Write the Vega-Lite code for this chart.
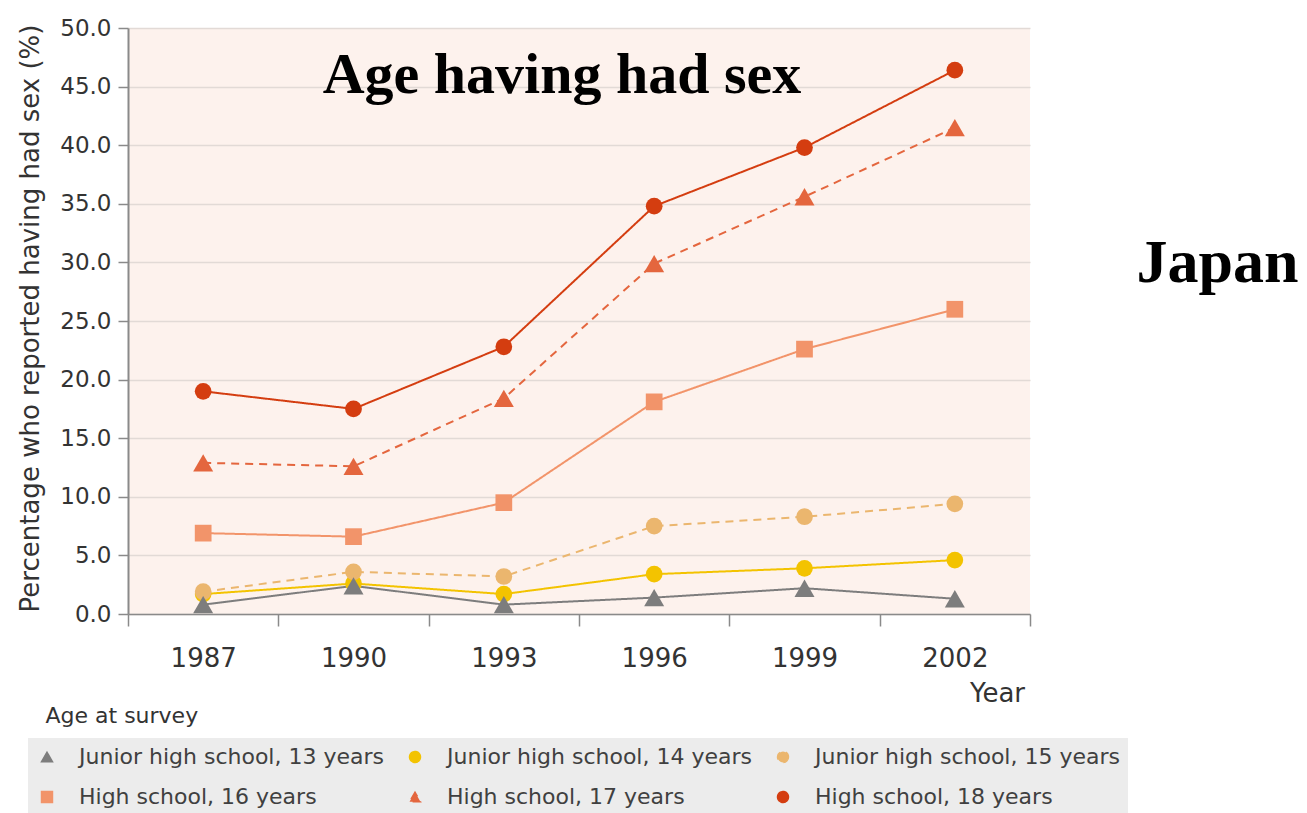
{
  "$schema": "https://vega.github.io/schema/vega-lite/v6.json",
  "width": 902,
  "height": 586,
  "autosize": {"type": "none"},
  "padding": {"left": 128, "top": 28, "right": 277, "bottom": 199},
  "background": "white",
  "title": {
    "text": "Age having had sex",
    "font": "Liberation Serif",
    "fontSize": 58,
    "fontWeight": "bold",
    "color": "#000000",
    "anchor": "middle",
    "frame": "group",
    "baseline": "alphabetic",
    "dx": -17,
    "offset": -134
  },
  "config": {
    "font": "DejaVu Sans",
    "view": {"fill": "#fdf2ed", "stroke": null},
    "legend": {
      "orient": "none",
      "legendX": -100,
      "legendY": 710,
      "padding": 8,
      "fillColor": "#ececec",
      "direction": "horizontal",
      "columns": 3,
      "gridAlign": "all",
      "columnPadding": 20,
      "rowPadding": 18,
      "labelFont": "DejaVu Sans",
      "labelFontSize": 22,
      "labelColor": "#404040",
      "labelLimit": 400,
      "labelOffset": 21,
      "symbolSize": 120,
      "symbolStrokeWidth": 1.5
    }
  },
  "data": {
    "values": [
      {"group": "Junior high school, 13 years", "year": "1987", "pct": 0.8},
      {"group": "Junior high school, 13 years", "year": "1990", "pct": 2.4},
      {"group": "Junior high school, 13 years", "year": "1993", "pct": 0.8},
      {"group": "Junior high school, 13 years", "year": "1996", "pct": 1.4},
      {"group": "Junior high school, 13 years", "year": "1999", "pct": 2.2},
      {"group": "Junior high school, 13 years", "year": "2002", "pct": 1.3},
      {"group": "Junior high school, 14 years", "year": "1987", "pct": 1.7},
      {"group": "Junior high school, 14 years", "year": "1990", "pct": 2.6},
      {"group": "Junior high school, 14 years", "year": "1993", "pct": 1.7},
      {"group": "Junior high school, 14 years", "year": "1996", "pct": 3.4},
      {"group": "Junior high school, 14 years", "year": "1999", "pct": 3.9},
      {"group": "Junior high school, 14 years", "year": "2002", "pct": 4.6},
      {"group": "Junior high school, 15 years", "year": "1987", "pct": 1.9},
      {"group": "Junior high school, 15 years", "year": "1990", "pct": 3.6},
      {"group": "Junior high school, 15 years", "year": "1993", "pct": 3.2},
      {"group": "Junior high school, 15 years", "year": "1996", "pct": 7.5},
      {"group": "Junior high school, 15 years", "year": "1999", "pct": 8.3},
      {"group": "Junior high school, 15 years", "year": "2002", "pct": 9.4},
      {"group": "High school, 16 years", "year": "1987", "pct": 6.9},
      {"group": "High school, 16 years", "year": "1990", "pct": 6.6},
      {"group": "High school, 16 years", "year": "1993", "pct": 9.5},
      {"group": "High school, 16 years", "year": "1996", "pct": 18.1},
      {"group": "High school, 16 years", "year": "1999", "pct": 22.6},
      {"group": "High school, 16 years", "year": "2002", "pct": 26.0},
      {"group": "High school, 17 years", "year": "1987", "pct": 12.9},
      {"group": "High school, 17 years", "year": "1990", "pct": 12.6},
      {"group": "High school, 17 years", "year": "1993", "pct": 18.4},
      {"group": "High school, 17 years", "year": "1996", "pct": 29.9},
      {"group": "High school, 17 years", "year": "1999", "pct": 35.6},
      {"group": "High school, 17 years", "year": "2002", "pct": 41.5},
      {"group": "High school, 18 years", "year": "1987", "pct": 19.0},
      {"group": "High school, 18 years", "year": "1990", "pct": 17.5},
      {"group": "High school, 18 years", "year": "1993", "pct": 22.8},
      {"group": "High school, 18 years", "year": "1996", "pct": 34.8},
      {"group": "High school, 18 years", "year": "1999", "pct": 39.8},
      {"group": "High school, 18 years", "year": "2002", "pct": 46.4}
    ]
  },
  "layer": [
    {
      "mark": {"type": "line", "strokeWidth": 2},
      "encoding": {
        "x": {
          "field": "year",
          "type": "ordinal",
          "scale": {"type": "band", "paddingInner": 0, "paddingOuter": 0},
          "axis": {
            "orient": "bottom",
            "labelAngle": 0,
            "tickBand": "extent",
            "tickSize": 12,
            "tickWidth": 1.5,
            "tickColor": "#8a8a8a",
            "domainColor": "#8a8a8a",
            "domainWidth": 1.5,
            "grid": false,
            "labelFont": "DejaVu Sans",
            "labelFontSize": 26,
            "labelColor": "#333333",
            "labelPadding": 19,
            "title": "Year",
            "titleFont": "DejaVu Sans",
            "titleFontSize": 26,
            "titleFontWeight": "normal",
            "titleColor": "#333333",
            "titleX": 869,
            "titleY": 79,
            "titleAlign": "center",
            "titleBaseline": "middle"
          }
        },
        "y": {
          "field": "pct",
          "type": "quantitative",
          "scale": {"domain": [0, 50], "nice": false},
          "axis": {
            "values": [0, 5, 10, 15, 20, 25, 30, 35, 40, 45, 50],
            "format": ".1f",
            "tickSize": 10,
            "tickWidth": 1.5,
            "tickColor": "#8a8a8a",
            "domainColor": "#8a8a8a",
            "domainWidth": 2,
            "grid": true,
            "gridColor": "#e2dad6",
            "gridWidth": 1.5,
            "labelFont": "DejaVu Sans",
            "labelFontSize": 23,
            "labelColor": "#333333",
            "labelPadding": 7,
            "title": "Percentage who reported having had sex (%)",
            "titleFont": "DejaVu Sans",
            "titleFontSize": 26,
            "titleFontWeight": "normal",
            "titleColor": "#333333",
            "titleAngle": -90,
            "titleX": -98,
            "titleY": 290,
            "titleAlign": "center",
            "titleBaseline": "middle"
          }
        },
        "color": {
          "field": "group",
          "type": "nominal",
          "title": null,
          "scale": {
            "domain": [
              "Junior high school, 13 years",
              "Junior high school, 14 years",
              "Junior high school, 15 years",
              "High school, 16 years",
              "High school, 17 years",
              "High school, 18 years"
            ],
            "range": ["#7d7d7d", "#f3c300", "#ebb66e", "#f2946a", "#e4663e", "#d43d10"]
          }
        },
        "strokeDash": {
          "field": "group",
          "type": "nominal",
          "title": null,
          "scale": {
            "domain": [
              "Junior high school, 13 years",
              "Junior high school, 14 years",
              "Junior high school, 15 years",
              "High school, 16 years",
              "High school, 17 years",
              "High school, 18 years"
            ],
            "range": [[1, 0], [1, 0], [8, 6], [1, 0], [8, 6], [1, 0]]
          }
        }
      }
    },
    {
      "transform": [{"filter": "indexof(['Junior high school, 13 years', 'High school, 17 years'], datum.group) < 0"}],
      "mark": {"type": "point", "filled": true, "opacity": 1, "size": 280},
      "encoding": {
        "x": {
          "field": "year",
          "type": "ordinal",
          "scale": {"type": "band", "paddingInner": 0, "paddingOuter": 0},
          "axis": {
            "orient": "bottom",
            "labels": false,
            "ticks": false,
            "domain": false,
            "grid": false,
            "title": "Age at survey",
            "titleFont": "DejaVu Sans",
            "titleFontSize": 22,
            "titleFontWeight": "normal",
            "titleColor": "#333333",
            "titleX": -83,
            "titleY": 101,
            "titleAlign": "left",
            "titleBaseline": "middle"
          }
        },
        "y": {
          "field": "pct",
          "type": "quantitative",
          "scale": {"domain": [0, 50], "nice": false},
          "axis": {
            "orient": "right",
            "labels": false,
            "ticks": false,
            "domain": false,
            "grid": false,
            "title": "Japan",
            "titleFont": "Liberation Serif",
            "titleFontSize": 62,
            "titleFontWeight": "bold",
            "titleColor": "#000000",
            "titleAngle": 0,
            "titleX": 106,
            "titleY": 253,
            "titleAlign": "left",
            "titleBaseline": "alphabetic"
          }
        },
        "color": {"field": "group", "type": "nominal", "title": null},
        "shape": {
          "field": "group",
          "type": "nominal",
          "title": null,
          "scale": {
            "domain": [
              "Junior high school, 13 years",
              "Junior high school, 14 years",
              "Junior high school, 15 years",
              "High school, 16 years",
              "High school, 17 years",
              "High school, 18 years"
            ],
            "range": ["triangle-up", "circle", "circle", "square", "triangle-up", "circle"]
          }
        }
      }
    },
    {
      "transform": [{"filter": "indexof(['Junior high school, 13 years', 'High school, 17 years'], datum.group) >= 0"}],
      "mark": {"type": "point", "filled": true, "opacity": 1, "size": 400},
      "encoding": {
        "x": {"field": "year", "type": "ordinal", "axis": null},
        "y": {"field": "pct", "type": "quantitative", "axis": null},
        "color": {"field": "group", "type": "nominal", "title": null},
        "shape": {"field": "group", "type": "nominal", "title": null}
      }
    }
  ],
  "resolve": {"axis": {"x": "independent", "y": "independent"}}
}
